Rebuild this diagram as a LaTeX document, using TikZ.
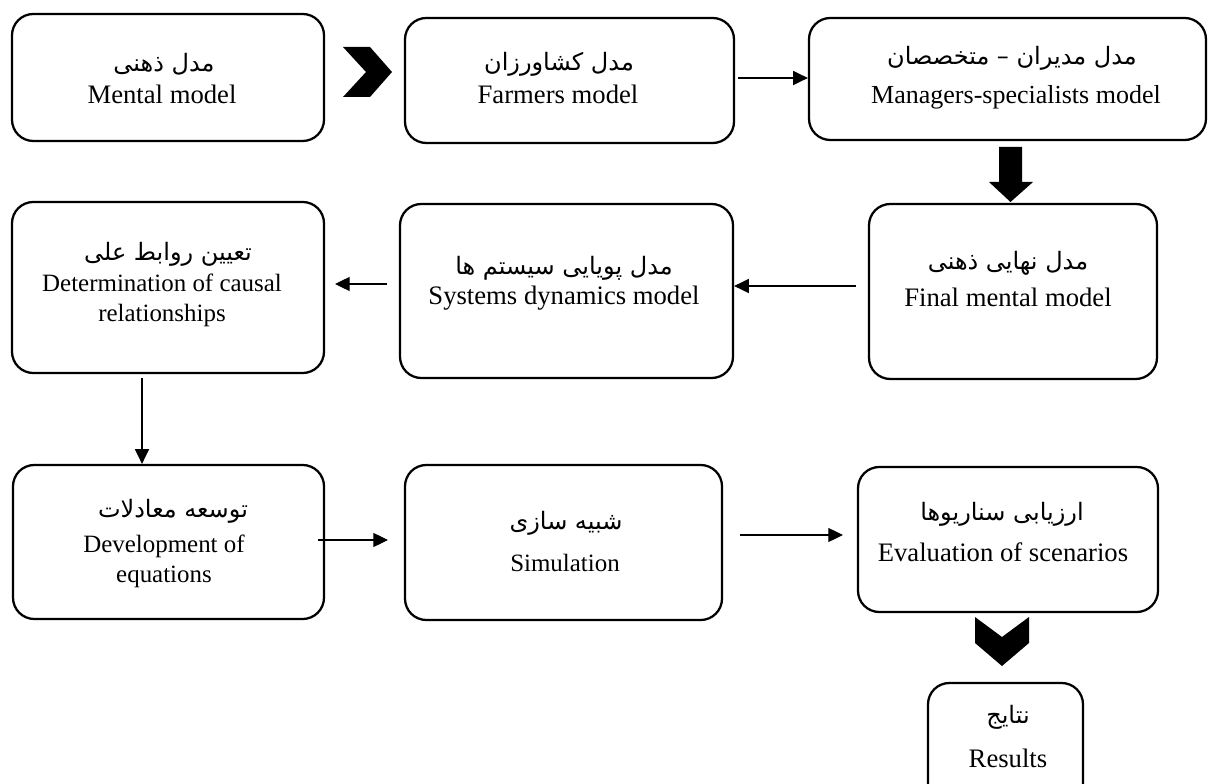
\documentclass[tikz,border=0pt]{standalone}
\usepackage{fontspec}
\setmainfont{Liberation Serif}
\newfontfamily\arabicfont[Script=Arabic]{DejaVu Sans}
\TeXXeTstate=1
\usetikzlibrary{arrows.meta,fit}
\begin{document}
\begin{tikzpicture}[x=0.75pt,y=-0.75pt,
  box/.style={draw, line width=1.7pt, rounded corners=16pt, inner sep=0pt},
  en/.style={font=\fontsize{20}{23}\selectfont, align=center, inner sep=0pt},
  ensmall/.style={font=\fontsize{18.7}{22.5}\selectfont, align=center, inner sep=0pt},
  enmid/.style={font=\fontsize{19.5}{23}\selectfont, align=center, inner sep=0pt},
  fa/.style={font=\arabicfont\fontsize{18}{22}\selectfont, inner sep=0pt},
  thinarrow/.style={line width=0.9pt, -{Triangle[length=11pt,width=10.5pt]}},
  solidshape/.style={fill=black, draw=none}]
\useasboundingbox (0,0) rectangle (1208,784);

% boxes
\node[box, fit={(12,14) (324,141)}] (b1) {};
\node[box, fit={(405,18) (734,143)}] (b2) {};
\node[box, fit={(809,18) (1206,140)}] (b3) {};
\node[box, fit={(869,204) (1157,379)}] (b4) {};
\node[box, fit={(400,204) (733,378)}] (b5) {};
\node[box, fit={(12,202) (324,373)}] (b6) {};
\node[box, fit={(13,465) (324,619)}] (b7) {};
\node[box, fit={(405,465) (722,620)}] (b8) {};
\node[box, fit={(858,467) (1158,612)}] (b9) {};
\node[box, fit={(928,683) (1083,820)}] (b10) {};

% texts
\node[fa] (f1) at (164,64) {\beginR مدل ذهنی\endR};
\node[en] (e1) at (162,94) {Mental model};
\node[fa] (f2) at (559,64) {\beginR مدل کشاورزان\endR};
\node[en] (e2) at (558,94) {Farmers model};
\node[fa] (f3) at (1012,58) {\beginR مدل مدیران – متخصصان\endR};
\node[enmid] (e3) at (1016,97) {Managers-specialists model};
\node[fa] (f4) at (1008,263) {\beginR مدل نهایی ذهنی\endR};
\node[en] (e4) at (1008,297) {Final mental model};
\node[fa] (f5) at (564,268) {\beginR مدل پویایی سیستم ها\endR};
\node[en] (e5) at (564,298) {Systems dynamics model};
\node[fa] (f6) at (168,254) {\beginR تعیین روابط علی\endR};
\node[ensmall] (e6) at (162,300) {Determination of causal\\relationships};
\node[fa] (f7) at (173,511) {\beginR توسعه معادلات\endR};
\node[ensmall] (e7) at (164,561) {Development of\\equations};
\node[fa] (f8) at (566,523) {\beginR شبیه سازی\endR};
\node[ensmall] (e8) at (565,563) {Simulation};
\node[fa] (f9) at (1002,514) {\beginR ارزیابی سناریوها\endR};
\node[en] (e9) at (1003,552) {Evaluation of scenarios};
\node[fa] (f10) at (1008,717) {\beginR نتایج\endR};
\node[en] (e10) at (1008,758) {Results};

% thin arrows
\coordinate (s2) at (738,78);
\draw[thinarrow] (s2) -- (s2 -| b3.west);
\coordinate (s4) at (856,286);
\draw[thinarrow] (s4) -- (s4 -| b5.east);
\coordinate (s5a) at (387,284);
\coordinate (s5b) at (335,284);
\draw[thinarrow] (s5a) -- (s5b);
\coordinate (s6) at (142,378);
\draw[thinarrow] (s6) -- (s6 |- b7.north);
\coordinate (s7a) at (318,540);
\coordinate (s7b) at (388,540);
\draw[thinarrow] (s7a) -- (s7b);
\coordinate (s8a) at (740,535);
\coordinate (s8b) at (843,535);
\draw[thinarrow] (s8a) -- (s8b);

% solid shapes
\fill[solidshape] (343,47) -- (370,47) -- (392,72) -- (370,97) -- (343,97) -- (366,72) -- cycle;
\fill[solidshape] (999,147) -- (1022,147) -- (1022,182) -- (1033,182) -- (1010.5,202) -- (989,182) -- (999,182) -- cycle;
\fill[solidshape] (975,617) -- (1002,637) -- (1029,617) -- (1029,643) -- (1002,666) -- (975,643) -- cycle;
\end{tikzpicture}
\end{document}
